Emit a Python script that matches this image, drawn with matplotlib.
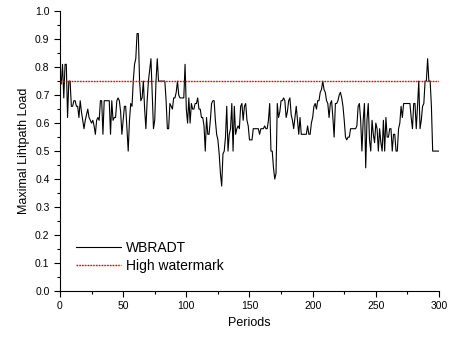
import numpy as np
import matplotlib
matplotlib.use("Agg")
import matplotlib.pyplot as plt
from matplotlib.ticker import MultipleLocator

plt.rcParams['font.family'] = ['Liberation Sans', 'DejaVu Sans']

# load per period (periods 1..300)
seg1 = [0.74, 0.81, 0.69, 0.81, 0.81, 0.62, 0.75, 0.75, 0.66, 0.66, 0.68, 0.68, 0.66, 0.66,
        0.62, 0.68, 0.64, 0.61, 0.58, 0.61, 0.63, 0.65, 0.62, 0.61, 0.60, 0.61, 0.59, 0.56,
        0.61, 0.62, 0.61, 0.68, 0.68, 0.56, 0.68, 0.68, 0.68, 0.68, 0.68, 0.56, 0.68, 0.61]
seg2 = [0.62, 0.62, 0.68, 0.69, 0.68, 0.64, 0.56, 0.61, 0.66, 0.66, 0.58, 0.50, 0.61, 0.67,
        0.66, 0.75, 0.81, 0.83, 0.92, 0.92, 0.75, 0.68, 0.69, 0.75, 0.65, 0.58, 0.68, 0.75,
        0.79, 0.83, 0.71, 0.58, 0.61, 0.75, 0.83, 0.75, 0.75, 0.75, 0.75, 0.75, 0.75, 0.68, 0.58]
seg3 = [0.58, 0.67, 0.66, 0.65, 0.69, 0.69, 0.71, 0.75, 0.70, 0.69, 0.69, 0.69, 0.69, 0.81,
        0.65, 0.60, 0.69, 0.60, 0.67, 0.65, 0.65, 0.67, 0.67, 0.69, 0.65, 0.65, 0.62, 0.62,
        0.59, 0.50, 0.62, 0.56, 0.56, 0.61, 0.67, 0.68, 0.68, 0.61, 0.56, 0.54, 0.49, 0.42, 0.375]
seg4 = [0.49, 0.50, 0.55, 0.66, 0.50, 0.56, 0.58, 0.67, 0.50, 0.66, 0.56, 0.58, 0.59, 0.58,
        0.66, 0.67, 0.61, 0.66, 0.67, 0.61, 0.59, 0.54, 0.54, 0.54, 0.58, 0.58, 0.58, 0.58,
        0.58, 0.56, 0.58, 0.58, 0.58, 0.59, 0.58, 0.58, 0.61, 0.67, 0.50, 0.50, 0.44, 0.40]
seg5 = [0.42, 0.67, 0.62, 0.64, 0.68, 0.68, 0.69, 0.68, 0.62, 0.64, 0.68, 0.69, 0.63, 0.61,
        0.58, 0.62, 0.66, 0.61, 0.56, 0.62, 0.56, 0.56, 0.56, 0.56, 0.56, 0.59, 0.56, 0.56,
        0.60, 0.62, 0.66, 0.67, 0.65, 0.68, 0.68, 0.71, 0.72, 0.75, 0.72, 0.71, 0.68, 0.67, 0.62]
seg6 = [0.67, 0.68, 0.62, 0.55, 0.67, 0.67, 0.68, 0.70, 0.71, 0.69, 0.66, 0.61, 0.55, 0.54,
        0.55, 0.55, 0.58, 0.58, 0.58, 0.58, 0.58, 0.59, 0.66, 0.67, 0.61, 0.50, 0.61, 0.67,
        0.44, 0.61, 0.67, 0.54, 0.50, 0.61, 0.56, 0.53, 0.60, 0.58, 0.50, 0.58, 0.53, 0.50, 0.61]
seg7 = [0.50, 0.62, 0.55, 0.55, 0.58, 0.58, 0.50, 0.56, 0.56, 0.50, 0.50, 0.58, 0.60, 0.66,
        0.62, 0.67, 0.67, 0.67, 0.67, 0.67, 0.67, 0.62, 0.58, 0.67, 0.67, 0.58, 0.66, 0.75,
        0.58, 0.61, 0.66, 0.67, 0.75, 0.75, 0.83, 0.75, 0.75, 0.66, 0.50, 0.50, 0.50, 0.50,
        0.50, 0.50]
load = seg1 + seg2 + seg3 + seg4 + seg5 + seg6 + seg7
periods = np.arange(1, len(load) + 1)
high_watermark = 0.75

fig = plt.figure(figsize=(4.49, 3.38), dpi=100)
ax = fig.add_axes([0.1336, 0.139, 0.8441, 0.828])

ax.plot(periods, load, color='black', lw=0.8, label='WBRADT')
ax.axhline(high_watermark, color='#ff0000', lw=1.0, ls=(0, (1.2, 0.8)), label='High watermark')

ax.set_xlim(0, 300)
ax.set_ylim(0, 1.0)
ax.xaxis.set_major_locator(MultipleLocator(50))
ax.xaxis.set_minor_locator(MultipleLocator(25))
ax.yaxis.set_major_locator(MultipleLocator(0.1))
ax.yaxis.set_minor_locator(MultipleLocator(0.05))
ax.yaxis.set_major_formatter(plt.FormatStrFormatter('%.1f'))
ax.tick_params(which='major', direction='out', length=4, width=0.8, labelsize=7.5)
ax.tick_params(which='minor', direction='out', length=2, width=0.8)
ax.spines['top'].set_visible(False)
ax.spines['right'].set_visible(False)

ax.set_xlabel('Periods', fontsize=9)
ax.set_ylabel('Maximal Lihtpath Load', fontsize=9)

ax.legend(loc='lower left', bbox_to_anchor=(0.01, 0.02), frameon=False, fontsize=10,
          handlelength=3.2, handletextpad=0.4, labelspacing=0.3)

fig.savefig('out.png', dpi=100)
